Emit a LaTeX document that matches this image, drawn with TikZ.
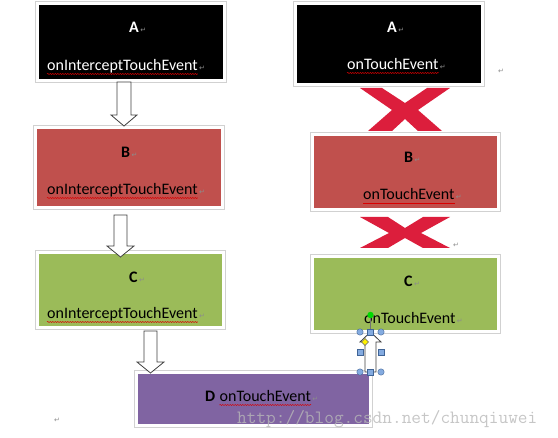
\documentclass[tikz,border=0pt]{standalone}
\usepackage{fontspec}
\setmainfont{Carlito}
\newfontfamily\djv{DejaVu Sans}
\usetikzlibrary{shadows,decorations.pathmorphing}
\definecolor{boxred}{HTML}{C0504D}
\definecolor{boxgreen}{HTML}{9BBB59}
\definecolor{boxpurple}{HTML}{8064A2}
\definecolor{xred}{HTML}{DC1E3C}
\definecolor{selblue}{HTML}{5B8FD6}
\definecolor{wmgray}{HTML}{B8B8B8}
\begin{document}
\begin{tikzpicture}[x=1pt,y=-1pt,
  box/.style={draw=white, line width=3pt, inner sep=0pt,
    drop shadow={shadow xshift=2.5pt, shadow yshift=-2.5pt, fill=black!30, opacity=0.6},
    preaction={draw=black!18, line width=4.4pt}},
  lbl/.style={inner sep=0pt, anchor=base west, font=\fontsize{16}{19}\selectfont},
  big/.style={inner sep=0pt, anchor=base west, font=\bfseries\fontsize{16}{19}\selectfont},
  pil/.style={inner sep=0pt, anchor=base west, font=\djv\fontsize{7}{8}\selectfont, text=black!45, xshift=1pt},
  squig/.style={draw=red!85!black, line width=0.5pt, decorate,
    decoration={snake, amplitude=0.6pt, segment length=2.5pt}},
  barrow/.style={fill=white, draw=black!75, line width=0.8pt, line join=miter},
  xmark/.style={fill=xred},
  handle/.style={fill=selblue!75!white, draw=selblue!70!black, line width=0.4pt},
]
\useasboundingbox (0,0) rectangle (558,438);

% boxes
\node[box, fill=black, minimum width=187pt, minimum height=77pt] (LA) at (131,42) {};
\node[box, fill=black, minimum width=187pt, minimum height=81pt] (RA) at (389,44) {};
\node[box, fill=boxred, minimum width=187pt, minimum height=80pt] (LB) at (129,167.5) {};
\node[box, fill=boxgreen, minimum width=186pt, minimum height=75pt] (LC) at (130.5,290) {};
\node[box, fill=boxred, minimum width=186pt, minimum height=75pt] (RB) at (405.5,172) {};
\node[box, fill=boxgreen, minimum width=186pt, minimum height=75pt] (RC) at (405.5,294) {};
\node[box, fill=boxpurple, minimum width=234pt, minimum height=53pt] (D) at (253.5,399) {};

% texts
\node[big, text=white] (LAl) at (129,33) {A};
\node[pil] at (LAl.base east) {↵};
\node[lbl, text=white] (LAt) at (47,71) {onInterceptTouchEvent};
\node[pil] at (LAt.base east) {↵};
\draw[squig] ([yshift=-3pt]LAt.base west) -- ([yshift=-3pt]LAt.base east);

\node[big] (LBl) at (121,158) {B};
\node[pil] at (LBl.base east) {↵};
\node[lbl] (LBt) at (47,195) {onInterceptTouchEvent};
\node[pil] at (LBt.base east) {↵};
\draw[squig] ([yshift=-3pt]LBt.base west) -- ([yshift=-3pt]LBt.base east);

\node[big] (LCl) at (129,283) {C};
\node[pil] at (LCl.base east) {↵};
\node[lbl] (LCt) at (47,319) {onInterceptTouchEvent};
\node[pil] at (LCt.base east) {↵};
\draw[squig] ([yshift=-3pt]LCt.base west) -- ([yshift=-3pt]LCt.base east);

\node[big, text=white] (RAl) at (387,33) {A};
\node[pil] at (RAl.base east) {↵};
\node[lbl, text=white] (RAt) at (347,70) {onTouchEvent};
\node[pil] at (RAt.base east) {↵};
\draw[squig] ([yshift=-3pt]RAt.base west) -- ([yshift=-3pt]RAt.base east);

\node[big] (RBl) at (404,163) {B};
\node[pil] at (RBl.base east) {↵};
\node[lbl] (RBt) at (363,200) {onTouchEvent};
\node[pil] at (RBt.base east) {↵};
\draw[red!85!black, line width=0.6pt] ([yshift=-3pt]RBt.base west) -- ([yshift=-3pt]RBt.base east);

\node[big] (RCl) at (404,287) {C};
\node[pil] at (RCl.base east) {↵};
\node[lbl] (RCt) at (364,324) {onTouchEvent};
\node[pil] at (RCt.base east) {↵};

\node[big] (Dl) at (205,402) {D};
\node[lbl, xshift=4pt] (Dt) at (Dl.base east) {onTouchEvent};
\node[pil] at (Dt.base east) {↵};
\draw[squig] ([yshift=-3pt]Dt.base west) -- ([yshift=-3pt]Dt.base east);

% stray paragraph marks
\node[pil] (p1) at (497,74) {↵};
\node[pil] (p2) at (452,248) {↵};
\node[pil] (p3) at (53,423) {↵};

% hollow block arrows (left column)
\draw[barrow] (117,82) -- (131,82) -- (131,115) -- (137,115) -- (124,126) -- (111,115) -- (117,115) -- cycle;
\draw[barrow] (114,215) -- (127,215) -- (127,246) -- (134,246) -- (120.5,257) -- (107,246) -- (114,246) -- cycle;
\draw[barrow] (144,331) -- (157,331) -- (157,362) -- (164,362) -- (150.5,373) -- (137,362) -- (144,362) -- cycle;

% red crosses (right column)
\fill[xmark] (360,88) -- (382,88) -- (405,103) -- (427,88) -- (450,88) -- (418,110) -- (442,131) -- (418,131) -- (405,119) -- (392,131) -- (368,131) -- (392,110) -- cycle;
\fill[xmark] (360,217) -- (388,217) -- (405,228) -- (423,217) -- (450,217) -- (421,233) -- (450,248) -- (423,248) -- (405,238) -- (388,248) -- (360,248) -- (389,233) -- cycle;

% selected up arrow
\draw[barrow] (365,372) -- (365,342) -- (360,342) -- (370.5,332) -- (381,342) -- (376,342) -- (376,372) -- cycle;
\draw[black!55, line width=0.6pt] (370.5,315) -- (370.5,332);
\fill[green!85!black] (370.5,315) circle (3.2pt);
\foreach \p in {(360,332),(381,332),(360,372),(381,372)} \draw[handle] \p circle (3.2pt);
\foreach \p in {(370.5,332),(360,352),(381,352),(370.5,372)} \draw[handle] \p ++(-3,-3) rectangle ++(6,6);
\draw[fill=yellow, draw=black!60, line width=0.4pt] (365,338.5) -- (368.5,342) -- (365,345.5) -- (361.5,342) -- cycle;

% watermark
\node[anchor=base west, inner sep=0pt, text=wmgray, text opacity=0.8,
  font=\ttfamily\fontsize{18.8}{20}\selectfont] (wm) at (237,424) {http://blog.csdn.net/chunqiuwei};
\end{tikzpicture}
\end{document}
